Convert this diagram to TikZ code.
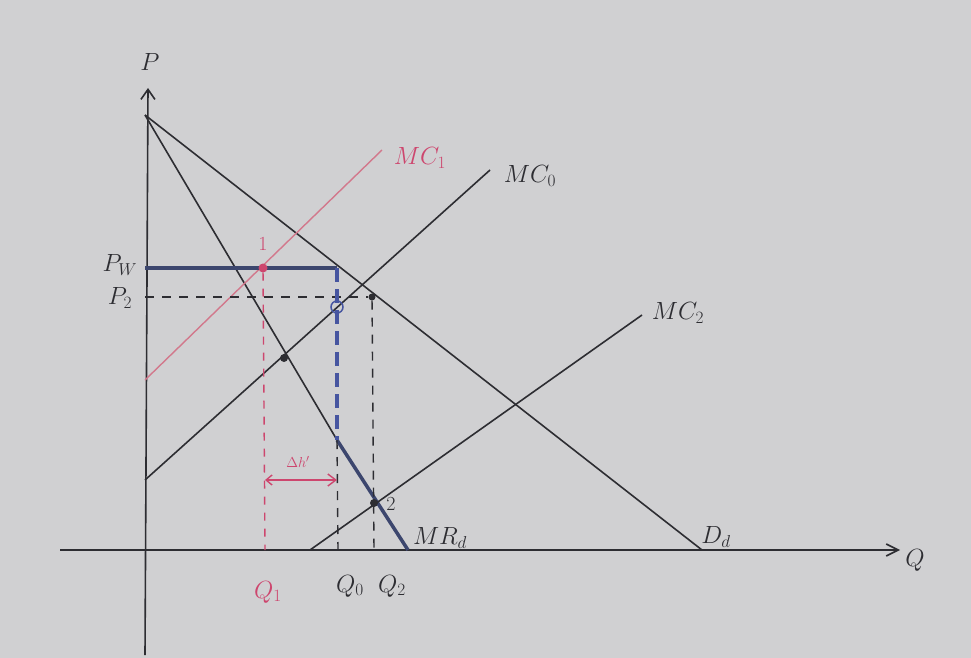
\documentclass[tikz,border=0pt]{standalone}
\usetikzlibrary{arrows.meta}
\definecolor{board}{RGB}{208,208,210}
\definecolor{ink}{RGB}{45,45,50}
\definecolor{redink}{RGB}{205,70,110}
\definecolor{pinkline}{RGB}{210,120,140}
\definecolor{blueink}{RGB}{70,85,160}
\definecolor{pwink}{RGB}{60,70,110}
\begin{document}
\begin{tikzpicture}[x=1pt,y=-1pt,every node/.style={font=\fontsize{26}{28}\selectfont,text=ink},
  curve/.style={ink,line width=1.6pt},
  guide/.style={ink,line width=1.4pt,dash pattern=on 9pt off 8pt},
  dot/.style={circle,fill=ink,inner sep=0pt,minimum size=8pt}]
\fill[board] (0,0) rectangle (971,658);
\useasboundingbox (0,0) rectangle (971,658);
% Axes
\coordinate (ybot) at (145,655);
\coordinate (ytop) at (148,88);
\coordinate (xl) at (60,550);
\coordinate (xr) at (900,550);
\draw[curve,-{Straight Barb[length=10pt,width=14pt]}] (ybot) -- (ytop);
\draw[curve,-{Straight Barb[length=12pt,width=12pt]}] (xl) -- (xr);
\node (plab) at (150,62) {$P$};
\node (qlab) at (915,560) {$Q$};
% Demand and MR
\coordinate (A) at (145,115);
\coordinate (dend) at (702,550);
\coordinate (mrend) at (408,550);
\coordinate (kink) at (337,440);
\draw[curve] (A) -- (dend);
\draw[curve] (A) -- (kink);
\draw[pwink,line width=3.5pt] (kink) -- (mrend);
\node (dlab) at (716,537) {$D_d$};
\node (mrlab) at (440,538) {$MR_d$};
% Marginal cost curves
\coordinate (mc0a) at (145,480);
\coordinate (mc0b) at (490,170);
\coordinate (mc1a) at (145,380);
\coordinate (mc1b) at (382,150);
\coordinate (mc2a) at (310,550);
\coordinate (mc2b) at (642,315);
\draw[curve] (mc0a) -- (mc0b);
\draw[pinkline,line width=1.4pt] (mc1a) -- (mc1b);
\draw[curve] (mc2a) -- (mc2b);
\node (mc0lab) at (530,176) {$MC_0$};
\node[text=redink] (mc1lab) at (420,158) {$MC_1$};
\node (mc2lab) at (678,313) {$MC_2$};
% Prices
\coordinate (pwl) at (145,268);
\coordinate (pwr) at (337,268);
\coordinate (p2l) at (145,297);
\node[dot,minimum size=7pt] (e2) at (372,297) {};
\draw[pwink,line width=3.5pt] (pwl) -- (pwr);
\draw[guide] (p2l) -- (e2);
\draw[blueink,line width=4pt,dash pattern=on 14pt off 7pt] (pwr) -- (kink);
\node (pwlab) at (120,265) {$P_W$};
\node (p2lab) at (120,298) {$P_2$};
% Points
\node[circle,fill=redink,inner sep=0pt,minimum size=9pt] (pt1) at (263,268) {};
\node[text=redink,font=\fontsize{20}{22}\selectfont] (l1) at (263,244) {1};
\node[dot] (ptd) at (284,358) {};
\node[dot] (pt2) at (374,503) {};
\node[font=\fontsize{20}{22}\selectfont] (l2) at (391,504) {2};
\node[circle,draw=blueink,line width=1.5pt,inner sep=0pt,minimum size=12pt] (ptc) at (337,307) {};
% Quantities
\coordinate (q1) at (265,550);
\coordinate (q0) at (338,550);
\coordinate (q2) at (374,550);
\draw[redink,line width=1.4pt,dash pattern=on 8pt off 8pt] (pt1) -- (q1);
\draw[guide] (kink) -- (q0);
\draw[guide] (e2) -- (q2);
\node[text=redink] (q1lab) at (268,592) {$Q_1$};
\node (q0lab) at (350,586) {$Q_0$};
\node (q2lab) at (392,586) {$Q_2$};
% Output change
\coordinate (a1) at (265,480);
\coordinate (a2) at (337,480);
\draw[redink,line width=1.4pt,{Straight Barb[length=6pt,width=10pt]}-{Straight Barb[length=8pt,width=12pt]}] (a1) -- (a2);
\node[text=redink,font=\fontsize{15}{17}\selectfont] (dlt) at (298,462) {$\Delta h'$};
\end{tikzpicture}
\end{document}
